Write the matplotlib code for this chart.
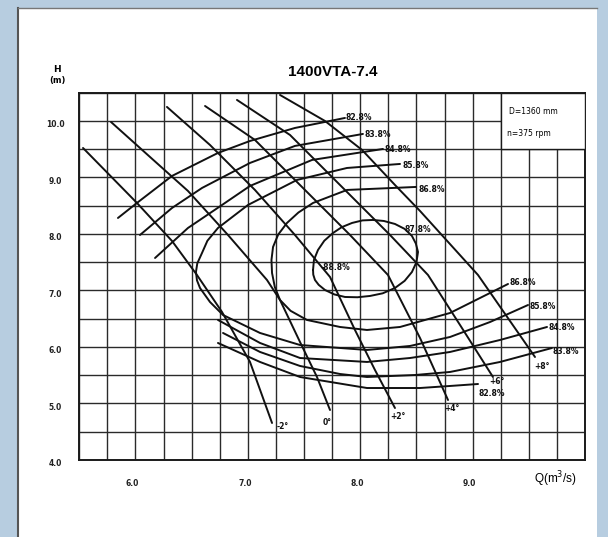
import numpy as np
import matplotlib
matplotlib.use("Agg")
import matplotlib.pyplot as plt
from matplotlib.patches import Rectangle
from matplotlib import transforms

# blade angle lines (Q, H)
blade_m2_q = [5.533, 6.013, 6.325, 6.547, 6.770, 7.019, 7.215]
blade_m2_h = [9.522, 8.549, 7.876, 7.274, 6.619, 5.735, 4.655]
blade_0_q = [5.782, 6.129, 6.467, 6.823, 7.170, 7.286, 7.464, 7.615, 7.731]
blade_0_h = [9.982, 9.363, 8.761, 7.982, 7.186, 6.832, 6.088, 5.469, 4.885]
blade_p2_q = [6.280, 6.663, 7.063, 7.419, 7.731, 7.953, 8.131, 8.309]
blade_p2_h = [10.248, 9.575, 8.779, 7.982, 7.239, 6.301, 5.593, 4.920]
blade_p4_q = [6.619, 7.063, 7.508, 7.909, 8.247, 8.532, 8.781]
blade_p4_h = [10.265, 9.664, 8.779, 7.982, 7.274, 6.159, 5.062]
blade_p6_q = [6.903, 7.375, 7.864, 8.265, 8.603, 8.888, 9.181]
blade_p6_h = [10.372, 9.752, 8.779, 7.982, 7.274, 6.389, 5.469]
blade_p8_q = [7.286, 7.686, 8.016, 8.309, 8.532, 9.048, 9.555]
blade_p8_h = [10.460, 10.000, 9.487, 8.867, 8.407, 7.274, 5.823]

# efficiency contours
eff828_up_q = [5.844, 6.013, 6.325, 6.734, 7.019, 7.419, 7.864]
eff828_up_h = [8.283, 8.549, 9.027, 9.434, 9.646, 9.876, 10.053]
eff838_up_q = [6.040, 6.325, 6.592, 7.019, 7.419, 8.024]
eff838_up_h = [7.982, 8.460, 8.814, 9.257, 9.558, 9.770]
eff848_up_q = [6.174, 6.467, 6.770, 7.019, 7.571, 8.202]
eff848_up_h = [7.575, 8.106, 8.513, 8.850, 9.310, 9.504]
eff858_q = [8.354, 7.882, 7.437, 7.001, 6.734, 6.640, 6.592, 6.550, 6.538, 6.547,
            6.574, 6.663, 6.779, 7.108, 7.464, 8.060, 8.443, 8.799, 9.155, 9.493]
eff858_h = [9.239, 9.168, 8.956, 8.513, 8.106, 7.880, 7.664, 7.480, 7.327, 7.180,
            7.044, 6.796, 6.566, 6.248, 6.035, 5.947, 6.018, 6.177, 6.442, 6.743]
eff868_q = [8.496, 7.882, 7.580, 7.450, 7.348, 7.270, 7.224, 7.210, 7.215, 7.240,
            7.286, 7.380, 7.526, 7.820, 8.060, 8.354, 8.799, 9.315]
eff868_h = [8.832, 8.779, 8.549, 8.380, 8.195, 7.990, 7.770, 7.540, 7.310, 7.060,
            6.832, 6.640, 6.478, 6.354, 6.301, 6.354, 6.602, 7.115]
eff878_q = [7.580, 7.588, 7.624, 7.680, 7.758, 7.835, 7.927, 8.020, 8.113, 8.210,
            8.309, 8.395, 8.460, 8.495, 8.514, 8.500, 8.460, 8.395, 8.309, 8.200,
            8.087, 7.975, 7.864, 7.770, 7.686, 7.630, 7.597, 7.582, 7.580]
eff878_h = [7.363, 7.540, 7.717, 7.880, 8.018, 8.120, 8.195, 8.240, 8.248, 8.230,
            8.177, 8.090, 7.965, 7.830, 7.681, 7.500, 7.327, 7.170, 7.044, 6.950,
            6.903, 6.880, 6.885, 6.930, 7.009, 7.100, 7.186, 7.280, 7.363]
eff848_lo_q = [6.734, 7.108, 7.464, 8.060, 8.443, 8.799, 9.244, 9.662]
eff848_lo_h = [6.478, 6.071, 5.805, 5.735, 5.805, 5.912, 6.124, 6.354]
eff838_lo_q = [6.779, 7.108, 7.464, 7.820, 8.060, 8.487, 8.799, 9.244, 9.706]
eff838_lo_h = [6.248, 5.912, 5.664, 5.522, 5.469, 5.504, 5.558, 5.735, 5.982]
eff828_lo_q = [6.734, 7.108, 7.464, 8.060, 8.532, 8.799, 9.048]
eff828_lo_h = [6.071, 5.735, 5.469, 5.274, 5.274, 5.310, 5.345]

x_ticks = [6.0, 7.0, 8.0, 9.0]
y_ticks = [4.0, 5.0, 6.0, 7.0, 8.0, 9.0, 10.0]

narrow = ["Liberation Sans Narrow", "DejaVu Sans Condensed", "DejaVu Sans"]

fig = plt.figure(figsize=(6.08, 5.37), dpi=100)
fig.patch.set_facecolor("#b7cde0")
# white paper
paper = Rectangle((18/608, 0), (597-18)/608, (537-8)/537, transform=fig.transFigure,
                  facecolor="white", edgecolor="none", zorder=0)
fig.patches.append(paper)
fig.add_artist(plt.Line2D([18/608, 18/608], [0, (537-8)/537], color="#555555", lw=1.5,
                          transform=fig.transFigure))
fig.add_artist(plt.Line2D([18/608, 597/608], [(537-8)/537, (537-8)/537], color="#777777",
                          lw=1.0, transform=fig.transFigure))

ax = fig.add_axes([79.3/608, 77/537, (585-79.3)/608, (460-92.7)/537])
ax.set_zorder(2)
ax.set_xlim(5.5, 10.0)
ax.set_ylim(4.0, 10.5)
ax.set_facecolor("white")

ax.set_xticks(np.arange(5.5, 10.01, 0.25), minor=True)
ax.set_yticks(np.arange(4.0, 10.51, 0.5), minor=True)
ax.set_xticks(x_ticks)
ax.set_yticks(y_ticks)
ax.set_xticklabels(["%.1f" % v for v in x_ticks], family=narrow, fontsize=5.5,
                   fontweight="bold", color="#222222")
ax.set_yticklabels(["%.1f" % v for v in y_ticks], family=narrow, fontsize=5.5,
                   fontweight="bold", color="#222222")
ax.tick_params(which="both", length=0)
ax.tick_params(axis="x", pad=14)
ax.tick_params(axis="y", pad=13)
for lab in ax.get_yticklabels():
    lab.set_horizontalalignment("center")
    lab.set_transform(lab.get_transform() + transforms.ScaledTranslation(-6/100, -3/100, fig.dpi_scale_trans))
for lab in ax.get_xticklabels():
    lab.set_transform(lab.get_transform() + transforms.ScaledTranslation(-3/100, 0, fig.dpi_scale_trans))
ax.grid(which="both", color="#2a2a2a", lw=1.0)
ax.set_axisbelow(True)
for s in ax.spines.values():
    s.set_linewidth(1.4)
    s.set_color("#1a1a1a")

# info box
ax.add_patch(Rectangle((9.25, 9.5), 0.75, 1.0, facecolor="white", edgecolor="#1a1a1a",
                       lw=1.0, zorder=3))
ax.text(9.32, 10.16, "D=1360 mm", family=narrow, fontsize=5.5, va="center", zorder=4)
ax.text(9.31, 9.78, "n=375 rpm", family=narrow, fontsize=5.5, va="center", zorder=4)

kw = dict(color="#111111", lw=1.4, solid_joinstyle="round", solid_capstyle="round", zorder=5)
for q, h in [(blade_m2_q, blade_m2_h), (blade_0_q, blade_0_h), (blade_p2_q, blade_p2_h),
             (blade_p4_q, blade_p4_h), (blade_p6_q, blade_p6_h), (blade_p8_q, blade_p8_h),
             (eff828_up_q, eff828_up_h), (eff838_up_q, eff838_up_h),
             (eff848_up_q, eff848_up_h), (eff858_q, eff858_h), (eff868_q, eff868_h),
             (eff878_q, eff878_h), (eff848_lo_q, eff848_lo_h), (eff838_lo_q, eff838_lo_h),
             (eff828_lo_q, eff828_lo_h)]:
    ax.plot(q, h, **kw)

lab = dict(family=narrow, fontsize=5.5, fontweight="bold", va="center", ha="left",
           color="#111111", zorder=6)
for x, y, t in [(7.873, 10.053, "82.8%"), (8.042, 9.752, "83.8%"), (8.220, 9.487, "84.8%"),
                (8.380, 9.204, "85.8%"), (8.514, 8.779, "86.8%"), (8.398, 8.071, "87.8%"),
                (7.650, 7.398, "-88.8%"), (9.332, 7.133, "86.8%"), (9.510, 6.708, "85.8%"),
                (9.679, 6.336, "84.8%"), (9.715, 5.912, "83.8%"), (9.048, 5.168, "82.8%"),
                (7.260, 4.584, "-2°"), (7.669, 4.655, "0°"), (8.265, 4.761, "+2°"),
                (8.745, 4.920, "+4°"), (9.146, 5.381, "+6°"), (9.546, 5.646, "+8°")]:
    ax.text(x, y, t, **lab)

fig.text(333/608, 1 - 72/537, "1400VTA-7.4", ha="center", va="center",
         fontsize=11, fontweight="bold", family=["Liberation Sans", "DejaVu Sans"])
fig.text(57/608, 1 - 70/537, "H", ha="center", va="center", fontsize=6.5,
         family=narrow, fontweight="bold")
fig.text(57/608, 1 - 81/537, "(m)", ha="center", va="center", fontsize=6,
         family=narrow, fontweight="bold")
fig.text(555/608, 1 - 479/537, "Q(m$^3$/s)", ha="center", va="center", fontsize=8.5,
         family=["Liberation Sans", "DejaVu Sans"])

fig.savefig("out.png", dpi=100, facecolor=fig.get_facecolor())
